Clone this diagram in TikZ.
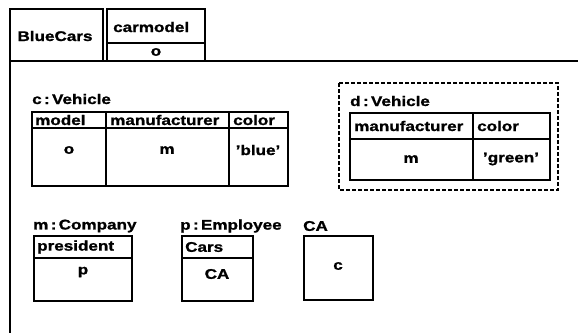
\documentclass[tikz,border=0pt]{standalone}
\usepackage{fontspec}
\setmainfont{Liberation Sans}[FakeStretch=1.22, BoldFeatures={FakeBold=1.2}]
\usepackage{tikz}

\tikzset{
  box/.style={line width=1.8pt},
  dashbox/.style={line width=1.5pt, dash pattern=on 4pt off 2pt},
  lbl/.style={font=\bfseries\fontsize{14}{16}\selectfont, inner sep=0pt},
}

\begin{document}
\begin{tikzpicture}[x=1pt,y=-1pt]
  \useasboundingbox (0,0) rectangle (578,333);

  % Heading and outer frame
  \draw[box] (10,9) rectangle (103,61);
  \draw[box] (107,9) rectangle (205,61);
  \draw[box] (107,43) -- (205,43);
  \draw[box] (10,9) -- (10,333);
  \draw[box] (10,61) -- (578,61);
  \node[lbl] (bluecars) at (55,36) {BlueCars};
  \node[lbl, anchor=west] (carmodel) at (113,27) {carmodel};
  \node[lbl] (carmodelval) at (156,52) {o};

  % Vehicle c
  \node[lbl, anchor=west] (cveh) at (32,99) {c\,:\,Vehicle};
  \draw[box] (32,112) rectangle (288,186);
  \draw[box] (32,128) -- (288,128);
  \draw[box] (106,112) -- (106,186);
  \draw[box] (229,112) -- (229,186);
  \node[lbl, anchor=west] (cmodel) at (35,120) {model};
  \node[lbl, anchor=west] (cmanuf) at (110,120) {manufacturer};
  \node[lbl, anchor=west] (ccolor) at (233,120) {color};
  \node[lbl] (cmodelval) at (69,150) {o};
  \node[lbl] (cmanufval) at (167,150) {m};
  \node[lbl] (ccolorval) at (258,150) {'blue'};

  % Vehicle d (dashed)
  \draw[dashbox] (339,83) rectangle (558,190);
  \node[lbl, anchor=west] (dveh) at (350,101) {d\,:\,Vehicle};
  \draw[box] (350,113) rectangle (550,180);
  \draw[box] (350,139) -- (550,139);
  \draw[box] (473,113) -- (473,180);
  \node[lbl, anchor=west] (dmanuf) at (354,126) {manufacturer};
  \node[lbl, anchor=west] (dcolor) at (477,126) {color};
  \node[lbl] (dmanufval) at (411,159) {m};
  \node[lbl] (dcolorval) at (511,159) {'green'};

  % Company m
  \node[lbl, anchor=west] (mcomp) at (33,226) {m\,:\,Company};
  \draw[box] (34,236) rectangle (132,301);
  \draw[box] (34,258) -- (132,258);
  \node[lbl, anchor=west] (mpres) at (37,247) {president};
  \node[lbl] (mpresval) at (83,272) {p};

  % Employee p
  \node[lbl, anchor=west] (pemp) at (180,226) {p\,:\,Employee};
  \draw[box] (182,236) rectangle (253,301);
  \draw[box] (182,258) -- (253,258);
  \node[lbl, anchor=west] (pcars) at (185,247) {Cars};
  \node[lbl] (pcarsval) at (217,274) {CA};

  % Set CA
  \node[lbl, anchor=west] (ca) at (303,226) {CA};
  \draw[box] (304,236) rectangle (373,300);
  \node[lbl] (caval) at (338,266) {c};
\end{tikzpicture}
\end{document}
